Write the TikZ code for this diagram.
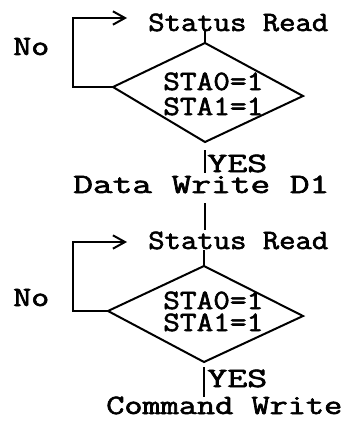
\documentclass[tikz,border=0pt]{standalone}
\usepackage{fontspec}
\setmonofont{Latin Modern Mono}[FakeBold=2]
\usetikzlibrary{arrows.meta,calc}
\tikzset{
  lbl/.style={inner sep=0pt, anchor=base west, font=\ttfamily\fontsize{21}{24}\selectfont},
  ln/.style={line width=1.5pt, line cap=butt, line join=miter},
  barb/.style={ln, -{Straight Barb[length=9pt,width=10pt,line width=1.5pt]}}
}
\newcommand{\sw}[2]{\resizebox{#1}{\height}{#2}}
\begin{document}
\begin{tikzpicture}[x=0.75pt,y=-0.75pt]
\useasboundingbox (0,0) rectangle (348,428);
% first block
\node[lbl] (sr1) at (148,31) {\sw{135pt}{Status Read}};
\node[lbl] (no1) at (13,55) {\sw{27pt}{No}};
\coordinate (d1t) at (205,43);
\coordinate (d1l) at (113,87);
\coordinate (d1r) at (303,96);
\coordinate (d1b) at (205,142);
\draw[ln] (d1t) -- (d1r) -- (d1b) -- (d1l) -- cycle;
\node[lbl] (sa1) at (163,90) {\sw{75pt}{STA0=1}};
\node[lbl] (sb1) at (163,115) {\sw{75pt}{STA1=1}};
\coordinate (a1) at (127,18);
\draw[barb] (d1l) -- ++(-40,0) |- (a1);
\draw[ln] (sr1.base -| d1t) -- (d1t);
\draw[ln] ($(d1b)+(0,8)$) -- ++(0,23);
\node[lbl] (y1) at (207,172) {\sw{45pt}{YES}};
\node[lbl] (dw) at (73,193) {\sw{192pt}{Data Write D1}};
% second block
\node[lbl] (sr2) at (148,249) {\sw{135pt}{Status Read}};
\node[lbl] (no2) at (13,306) {\sw{27pt}{No}};
\coordinate (d2t) at (204,266);
\coordinate (d2l) at (108,311);
\coordinate (d2r) at (303,316);
\coordinate (d2b) at (204,362);
\draw[ln] (d2t) -- (d2r) -- (d2b) -- (d2l) -- cycle;
\node[lbl] (sa2) at (163,309) {\sw{75pt}{STA0=1}};
\node[lbl] (sb2) at (163,331) {\sw{75pt}{STA1=1}};
\coordinate (a2) at (127,242);
\draw[barb] (d2l) -- ++(-35,0) |- (a2);
\draw[ln] ($(d2t)+(1,-63)$) -- ++(0,27);
\draw[ln] ($(d2t)+(0,-16)$) -- (d2t);
\draw[ln] ($(d2b)+(0,5)$) -- ++(0,30);
\node[lbl] (y2) at (207,387) {\sw{45pt}{YES}};
\node[lbl] (cw) at (106,414) {\sw{177pt}{Command Write}};
\end{tikzpicture}
\end{document}
